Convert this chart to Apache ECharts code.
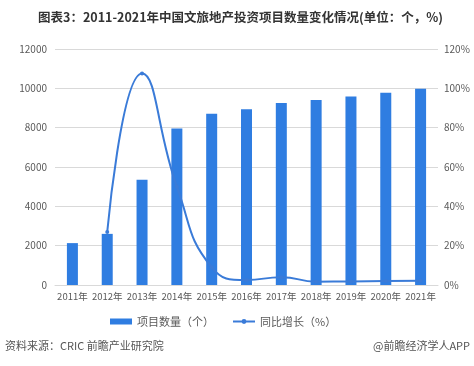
<!DOCTYPE html>
<html>
<head>
<meta charset="utf-8">
<script src="https://cdn.jsdelivr.net/npm/echarts@6/dist/echarts.min.js"></script>
<style>
html,body{margin:0;padding:0;background:#fff;}
#c{width:474px;height:366px;}
</style>
</head>
<body>
<div id="c"></div>
<script>
var titleText = '图表3：2011-2021年中国文旅地产投资项目数量变化情况(单位：个，%)';
var categories = ['2011年','2012年','2013年','2014年','2015年','2016年','2017年','2018年','2019年','2020年','2021年'];
var projectCount = [2130, 2600, 5350, 7960, 8710, 8940, 9260, 9410, 9580, 9770, 9985];
var yoyGrowth = [null, 27, 107.5, 50, 9, 2.5, 4, 1.7, 1.8, 2, 2.2];
var barName = '项目数量（个）';
var lineName = '同比增长（%）';
var sourceText = '资料来源：CRIC 前瞻产业研究院';
var brandText = '@前瞻经济学人APP';

var chart = echarts.init(document.getElementById('c'));
var font = '"Microsoft YaHei","Noto Sans CJK SC",sans-serif';
chart.setOption({
  animation: false,
  textStyle: {fontFamily: font},
  title: {
    text: titleText, left: 33, top: 6,
    textStyle: {fontSize: 12.5, fontWeight: 'bold', color: '#333', fontFamily: font}
  },
  graphic: [
    {type: 'text', left: 5, top: 340, style: {text: sourceText, fontSize: 11, fill: '#555', fontFamily: font}},
    {type: 'text', right: 4, top: 340, style: {text: brandText, fontSize: 11, fill: '#555', fontFamily: font}}
  ],
  legend: {
    top: 311, left: 105, itemGap: 18,
    textStyle: {fontSize: 11, color: '#595959'},
    data: [
      {name: barName, icon: 'rect'},
      {name: lineName}
    ],
    itemWidth: 22, itemHeight: 6
  },
  grid: {left: 55, right: 36, top: 49, bottom: 81},
  xAxis: {
    type: 'category', data: categories,
    axisLine: {lineStyle: {color: '#d9d9d9'}},
    axisTick: {show: false},
    axisLabel: {fontSize: 9.5, color: '#595959', margin: 7, interval: 0}
  },
  yAxis: [
    {
      type: 'value', min: 0, max: 12000, interval: 2000,
      axisLine: {show: false}, axisTick: {show: false},
      axisLabel: {fontSize: 10, color: '#595959', margin: 8, formatter: function (v) { return String(v); }},
      splitLine: {lineStyle: {color: '#d9d9d9'}}
    },
    {
      type: 'value', min: 0, max: 120, interval: 20,
      axisLine: {show: false}, axisTick: {show: false},
      axisLabel: {fontSize: 10, color: '#595959', formatter: '{value}%', margin: 6},
      splitLine: {show: false}
    }
  ],
  series: [
    {
      name: barName, type: 'bar', data: projectCount, barWidth: 11,
      itemStyle: {color: '#2f7de1'}
    },
    {
      name: lineName, type: 'line', yAxisIndex: 1, data: yoyGrowth, smooth: 0.5,
      symbol: 'circle', symbolSize: 4, showSymbol: true,
      lineStyle: {color: '#3a7bd8', width: 2},
      itemStyle: {color: '#3a7bd8'}
    }
  ]
});
</script>
</body>
</html>
